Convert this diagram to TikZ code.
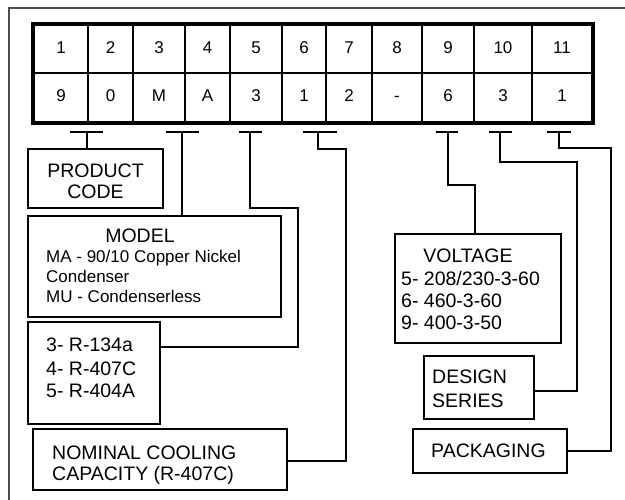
\documentclass[tikz,border=0pt]{standalone}
\usepackage{fontspec}
\setmainfont{Liberation Sans}
\begin{document}
\begin{tikzpicture}[x=1pt,y=-1pt,
  cell/.style={draw,line width=1.8pt,inner sep=0pt,minimum height=48.5pt,text height=12pt,text depth=3pt,font=\fontsize{17}{20}\selectfont},
  box/.style={draw,line width=1.8pt,inner sep=0pt},
  lbl/.style={inner sep=0pt,font=\fontsize{19.5}{23}\selectfont},
  small/.style={inner sep=0pt,font=\fontsize{17}{20}\selectfont},
  wire/.style={line width=1.6pt},
]
\useasboundingbox (0,0) rectangle (625,500);
\draw[black!70,line width=1.2pt] (9,8) rectangle (660,540);

% table
\foreach \l/\r/\a/\b [count=\i] in {34/88/1/9,88/133/2/0,133/185/3/M,185/230/4/A,230/282/5/3,282/326/6/1,326/372/7/2,372/422/8/-,422/474/9/6,474/532/10/3,532/592/11/1} {
  \node[cell,minimum width={\r-\l}] (c\i) at ({(\l+\r)/2},49) {\a};
  \node[cell,minimum width={\r-\l}] (d\i) at ({(\l+\r)/2},97.5) {\b};
}
\draw[line width=4pt] (c1.north west) rectangle (d11.south east);

% T-bar heads
\coordinate (tpc) at (87,132);
\coordinate (tmo) at (182,132);
\coordinate (trf) at (250,132);
\coordinate (tnm) at (318,132);
\coordinate (tvo) at (448,132);
\coordinate (tds) at (500,132);
\coordinate (tpk) at (559,132);
\draw[wire] ([xshift=-17pt]tpc) -- ([xshift=16pt]tpc);
\draw[wire] ([xshift=-16pt]tmo) -- ([xshift=17pt]tmo);
\draw[wire] ([xshift=-11pt]trf) -- ([xshift=12pt]trf);
\draw[wire] ([xshift=-15pt]tnm) -- ([xshift=19pt]tnm);
\draw[wire] ([xshift=-12pt]tvo) -- ([xshift=10pt]tvo);
\draw[wire] ([xshift=-11pt]tds) -- ([xshift=12pt]tds);
\draw[wire] ([xshift=-12pt]tpk) -- ([xshift=12pt]tpk);

% boxes
\node[box,minimum width=135pt,minimum height=59pt] (pc) at (95.5,178.5) {};
\node[box,minimum width=253pt,minimum height=101pt] (mo) at (154.5,266.5) {};
\node[box,minimum width=132pt,minimum height=102pt] (rf) at (94,373) {};
\node[box,minimum width=254pt,minimum height=61pt] (nm) at (160,459.5) {};
\node[box,minimum width=166pt,minimum height=109pt] (vo) at (478,288.5) {};
\node[box,minimum width=110pt,minimum height=63pt] (ds) at (479,387.5) {};
\node[box,minimum width=154pt,minimum height=44pt] (pk) at (490,451) {};

% texts
\node[lbl,anchor=base] (pct1) at (95.5,177.3) {PRODUCT};
\node[lbl,anchor=base] (pct2) at (95.5,199) {CODE};
\node[lbl,anchor=base] (mot) at (140,243) {MODEL};
\node[small,anchor=base west] (mo1) at (46,263) {MA - 90/10 Copper Nickel};
\node[small,anchor=base west] (mo2) at (46,283) {Condenser};
\node[small,anchor=base west] (mo3) at (46,303) {MU - Condenserless};
\node[lbl,anchor=base west] (rf1t) at (46,352) {3- R-134a};
\node[lbl,anchor=base west] (rf2t) at (46,375) {4- R-407C};
\node[lbl,anchor=base west] (rf3t) at (46,397.5) {5- R-404A};
\node[lbl,anchor=base west] (nm1t) at (52,459) {NOMINAL COOLING};
\node[lbl,anchor=base west] (nm2t) at (52,480) {CAPACITY (R-407C)};
\node[lbl,anchor=base] (vot) at (468,263) {VOLTAGE};
\node[lbl,anchor=base west] (vo1t) at (401,286) {5- 208/230-3-60};
\node[lbl,anchor=base west] (vo2t) at (401,307.5) {6- 460-3-60};
\node[lbl,anchor=base west] (vo3t) at (401,330) {9- 400-3-50};
\node[lbl,anchor=base west] (ds1t) at (432,384) {DESIGN};
\node[lbl,anchor=base west] (ds2t) at (432,407) {SERIES};
\node[lbl,anchor=base west] (pkt) at (431,457) {PACKAGING};

% connectors
\coordinate (rfa) at (298,208);
\coordinate (rfb) at (298,347);
\coordinate (nma) at (346,149);
\coordinate (nmb) at (346,461);
\coordinate (voa) at (475,185);
\coordinate (dsa) at (577,162);
\coordinate (dsb) at (577,391);
\coordinate (pka) at (611,148);
\coordinate (pkb) at (611,451);
\draw[wire] (tpc) -- (tpc |- pc.north);
\draw[wire] (tmo) -- (tmo |- mo.north);
\draw[wire] (trf) |- (rfa) -- (rfb) -- (rfb -| rf.east);
\draw[wire] (tnm) |- (nma) -- (nmb) -- (nmb -| nm.east);
\draw[wire] (tvo) |- (voa) -- (voa |- vo.north);
\draw[wire] (tds) |- (dsa) -- (dsb) -- (dsb -| ds.east);
\draw[wire] (tpk) |- (pka) -- (pkb) -- (pkb -| pk.east);
\end{tikzpicture}
\end{document}
